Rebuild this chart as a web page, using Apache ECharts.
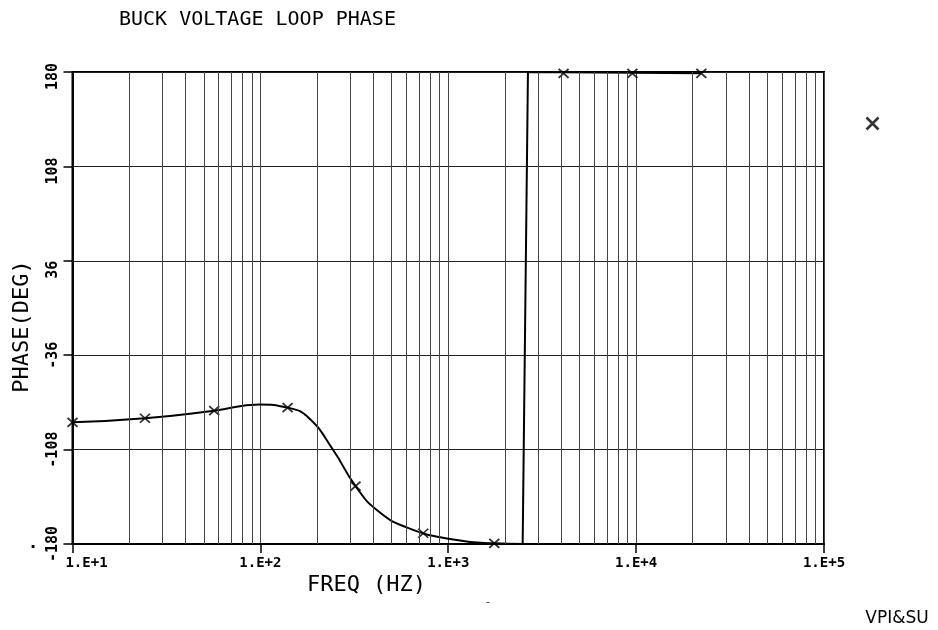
<!DOCTYPE html>
<html>
<head>
<meta charset="utf-8">
<script src="https://cdn.jsdelivr.net/npm/echarts@6/dist/echarts.min.js"></script>
<style>html,body{margin:0;padding:0;background:#fff;}#c{width:938px;height:630px;}</style>
</head>
<body>
<div id="c"></div>
<script>
// Smooth loop-phase curve (Hz, degrees)
const curveFreq  = [10, 24.3, 56.8, 98.8, 139.6, 180, 244, 321, 420, 600, 1021, 1758, 2489];
const curvePhase = [-87.2, -84.1, -78.3, -73.6, -76.0, -83.5, -108.3, -135.8, -154.5, -167.3, -176.2, -179.5, -180];
// Phase wrap (-180 -> +180) and the flat part at the top
const wrapFreq  = [2489, 2656, 22230];
const wrapPhase = [-180, 180, 179];
// Computed points marked with x
const markerFreq  = [10, 24.3, 56.8, 139.6, 321, 736, 1758, 4111, 9550, 22230];
const markerPhase = [-87.2, -84.1, -78.3, -76.0, -135.8, -171.8, -179.5, 179, 179, 179];
// Axis ticks
const yTicks = [-180, -108, -36, 36, 108, 180];
const minorFreqs = [];
[10, 100, 1000, 10000].forEach(d => { for (let k = 2; k <= 9; k++) minorFreqs.push(d * k); });

const MONO = '"DejaVu Sans Mono", monospace';
const xPath = 'path://M0,0L10,10M10,0L0,10';

const chart = echarts.init(document.getElementById('c'), null, {renderer: 'canvas'});
chart.setOption({
  backgroundColor: '#fff',
  animation: false,
  grid: {left: 72.5, top: 72, width: 751.5, height: 472, show: true, borderColor: '#000', borderWidth: 2, backgroundColor: 'transparent'},
  legend: {
    left: 859, top: 110, itemWidth: 12, itemHeight: 12, selectedMode: false,
    formatter: () => '',
    data: [{name: 'pts', icon: xPath, itemStyle: {color: 'none', borderColor: '#000', borderWidth: 2.6}}]
  },
  xAxis: {
    type: 'log', logBase: 10, min: 10, max: 100000,
    axisLine: {show: true, onZero: false, lineStyle: {color: '#000', width: 2}},
    axisTick: {show: true, length: 9, lineStyle: {color: '#000', width: 1.5}},
    splitLine: {show: true, lineStyle: {color: '#444', width: 1}},
    axisLabel: {
      margin: 12, color: '#000', fontFamily: MONO, fontSize: 14, fontWeight: 'bold',
      formatter: v => { const e = Math.round(Math.log10(v)); const s = '1.E+' + e; return e === 1 ? '{first|' + s + '}' : s; },
      rich: {first: {padding: [0, 0, 0, 28], fontFamily: MONO, fontSize: 14, fontWeight: 'bold', color: '#000'}}
    }
  },
  yAxis: {
    type: 'value', min: -180, max: 180, interval: 72,
    axisLine: {show: true, onZero: false, lineStyle: {color: '#000', width: 2}},
    axisTick: {show: true, length: 9, lineStyle: {color: '#000', width: 1.5}},
    splitLine: {show: true, lineStyle: {color: '#222', width: 1}},
    axisLabel: {
      rotate: 90, margin: 12, color: '#000', fontFamily: MONO, fontSize: 15, fontWeight: 'bold',
      formatter: v => yTicks.indexOf(v) < 0 ? '' : (v > 0 ? (v < 100 ? v + '  ' : v + ' ') : String(v))
    }
  },
  graphic: [
    {type: 'text', left: 119, top: 10, style: {text: 'BUCK VOLTAGE LOOP PHASE', font: '20px ' + MONO, fill: '#000'}},
    {type: 'text', x: 22.5, y: 326.5, rotation: Math.PI / 2, style: {text: 'PHASE(DEG)', font: '22px ' + MONO, fill: '#000', align: 'center', verticalAlign: 'middle'}},
    {type: 'text', x: 366.5, y: 585, style: {text: 'FREQ (HZ)', font: '22px ' + MONO, fill: '#000', align: 'center', verticalAlign: 'middle'}},
    {type: 'text', x: 897, y: 619, style: {text: 'VPI&SU', font: '17px "DejaVu Sans", sans-serif', fill: '#000', align: 'center', verticalAlign: 'middle'}},
    {type: 'text', x: 33, y: 544, style: {text: '.', font: 'bold 16px "DejaVu Sans"', fill: '#000', align: 'center', verticalAlign: 'middle'}},
    {type: 'text', x: 488, y: 603, style: {text: '-', font: '12px "DejaVu Sans"', fill: '#555', align: 'center', verticalAlign: 'middle'}}
  ],
  series: [
    {
      type: 'line', name: 'grid', data: [], silent: true,
      markLine: {
        silent: true, symbol: 'none', label: {show: false}, animation: false,
        lineStyle: {color: '#444', width: 1, type: 'solid'},
        data: minorFreqs.map(f => ({xAxis: f}))
      }
    },
    {
      type: 'line', name: 'curve', smooth: 0.5, showSymbol: false, clip: false,
      lineStyle: {color: '#000', width: 2},
      data: curveFreq.map((f, i) => [f, curvePhase[i]])
    },
    {
      type: 'line', name: 'wrap', smooth: false, showSymbol: false, clip: false,
      lineStyle: {color: '#000', width: 2},
      data: wrapFreq.map((f, i) => [f, wrapPhase[i]])
    },
    {
      type: 'scatter', name: 'pts', symbol: xPath, symbolSize: [10, 9], clip: false,
      itemStyle: {color: 'none', borderColor: '#000', borderWidth: 1.8},
      data: markerFreq.map((f, i) => [f, markerPhase[i]])
    }
  ]
});
</script>
</body>
</html>
